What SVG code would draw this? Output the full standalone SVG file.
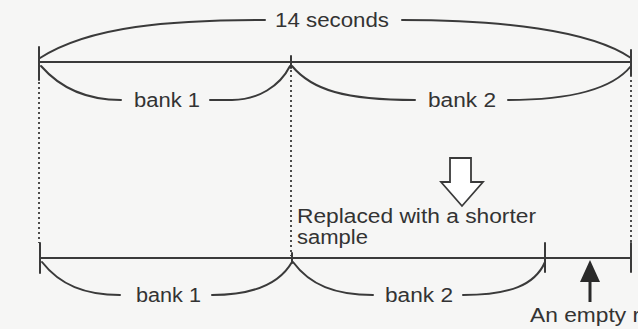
<svg xmlns="http://www.w3.org/2000/svg" width="638" height="329" viewBox="0 0 638 329">
<style>
.ln{fill:none;stroke:#3a3a3a;stroke-width:2;stroke-linecap:round}
.dot{fill:none;stroke:#3a3a3a;stroke-width:1.8;stroke-dasharray:2,3}
.t{font-family:"Liberation Sans",Arial,sans-serif;font-size:20px;fill:#333}
</style>
<rect width="638" height="329" fill="#f6f6f5"/>
<g id="connectors">
<line class="ln" x1="39" y1="62" x2="631" y2="62"/>
<line class="ln" x1="39" y1="47" x2="39" y2="80"/>
<line class="ln" x1="291" y1="56" x2="291" y2="68"/>
<line class="ln" x1="631" y1="50" x2="631" y2="76"/>
<line class="dot" x1="39" y1="82" x2="39" y2="243"/>
<line class="dot" x1="291" y1="70" x2="291" y2="256"/>
<line class="dot" x1="631" y1="80" x2="631" y2="243"/>
<line class="ln" x1="40" y1="258" x2="631" y2="258"/>
<line class="ln" x1="40" y1="243" x2="40" y2="273"/>
<line class="ln" x1="292" y1="253" x2="292" y2="263"/>
<line class="ln" x1="545" y1="243" x2="545" y2="272"/>
<line class="ln" x1="631" y1="243" x2="631" y2="272"/>
</g>
<g id="total">
<path class="ln" d="M40,58 C90,26 170,20 265,20"/>
<path class="ln" d="M402,20 C500,20 590,30 631,58"/>
<text class="t" x="275" y="27" textLength="114" lengthAdjust="spacingAndGlyphs">14 seconds</text>
</g>
<g id="bank1-top">
<path class="ln" d="M41,66 C62,90 90,100 121,100"/>
<path class="ln" d="M210,100 L232,100 C258,100 280,86 290,66"/>
<text class="t" x="134" y="107" textLength="66" lengthAdjust="spacingAndGlyphs">bank 1</text>
</g>
<g id="bank2-top">
<path class="ln" d="M292,66 C312,90 345,100 415,100"/>
<path class="ln" d="M508,100 C580,100 615,86 631,66"/>
<text class="t" x="428" y="107" textLength="68" lengthAdjust="spacingAndGlyphs">bank 2</text>
</g>
<g id="replace-arrow">
<polygon points="450,158 471,158 471,182 483,182 462,206 441,182 450,182" fill="#fff" stroke="#3a3a3a" stroke-width="1.8" stroke-linejoin="miter"/>
<text class="t" x="297" y="223" textLength="239" lengthAdjust="spacingAndGlyphs">Replaced with a shorter</text>
<text class="t" x="297" y="244" textLength="71" lengthAdjust="spacingAndGlyphs">sample</text>
</g>
<g id="bank1-bottom">
<path class="ln" d="M42,262 C60,285 85,295 120,295"/>
<path class="ln" d="M212,295 C255,295 280,283 292,262"/>
<text class="t" x="136" y="302" textLength="65" lengthAdjust="spacingAndGlyphs">bank 1</text>
</g>
<g id="bank2-bottom">
<path class="ln" d="M293,262 C310,285 335,295 373,295"/>
<path class="ln" d="M463,295 C510,295 535,285 545,262"/>
<text class="t" x="385" y="302" textLength="68" lengthAdjust="spacingAndGlyphs">bank 2</text>
</g>
<g id="empty">
<polygon points="590,260 600,282 580,282" fill="#2a2a2a"/>
<line x1="590" y1="281" x2="590" y2="302" stroke="#2a2a2a" stroke-width="3"/>
<text class="t" x="530" y="322" textLength="110" lengthAdjust="spacingAndGlyphs">An empty r</text>
</g>
</svg>
